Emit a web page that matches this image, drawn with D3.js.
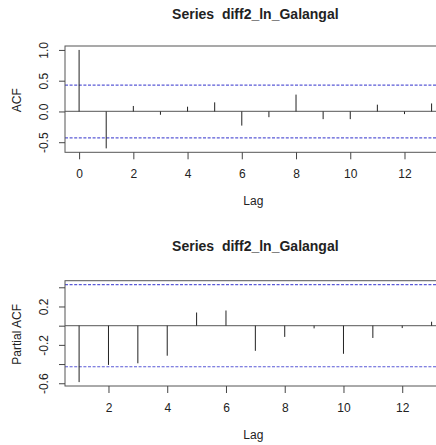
<!DOCTYPE html>
<html>
<head>
    <title>acf / pacf</title>
    <style>
    body { margin: 0; background: #fff; }
    svg text { font-family: "Liberation Sans", Arial, sans-serif; fill: #222; }
    .box { fill: none; stroke: #555; stroke-width: 1; }
    .zero { stroke: #777; stroke-width: 1.2; }
    .spike { stroke: #222; stroke-width: 1; }
    .clim { stroke: #5a5ad6; stroke-width: 1.2; stroke-dasharray: 3, 1.6; }
    .axis path.domain { display: none; }
    .axis line { stroke: #444; }
    .axis text { font-size: 12px; fill: #222; font-family: "Liberation Sans", Arial, sans-serif; }
    </style>
</head>
<body>
<svg id="chart"></svg>
<script src="https://d3js.org/d3.v7.min.js"></script>
<script>
// values
var seriesName = "diff2_ln_Galangal";
var acfLags = [0, 1, 2, 3, 4, 5, 6, 7, 8, 9, 10, 11, 12, 13];
var acfValues = [1.0, -0.6, 0.089, -0.054, 0.077, 0.148, -0.23, -0.093, 0.274, -0.125, -0.125, 0.11, -0.043, 0.13];
var pacfLags = [1, 2, 3, 4, 5, 6, 7, 8, 9, 10, 11, 12, 13];
var pacfValues = [-0.588, -0.409, -0.392, -0.313, 0.137, 0.158, -0.262, -0.117, -0.028, -0.293, -0.128, -0.025, 0.041];
var clim = 0.428;
var acfXTicks = [0, 2, 4, 6, 8, 10, 12];
var pacfXTicks = [2, 4, 6, 8, 10, 12];
var acfYTicks = [-0.5, 0, 0.5, 1.0];
var acfYLabels = [-0.5, 0, 0.5, 1.0];
var pacfYTicks = [-0.6, -0.4, -0.2, 0, 0.2, 0.4];
var pacfYLabels = [-0.6, -0.2, 0.2];

var W = 436, H = 445;
var svg = d3.select("#chart").attr("width", W).attr("height", H);

// R style range with 4% extension
function rlim(arr) {
    var e = d3.extent(arr);
    var d = (e[1] - e[0]) * 0.04;
    return [e[0] - d, e[1] + d];
}

function drawPanel(p) {
    var x = d3.scaleLinear().domain(rlim(p.lags)).range([p.left, p.right]);
    var y = d3.scaleLinear()
        .domain(rlim(p.values.concat([clim, -clim])))
        .range([p.bottom, p.top]);

    var g = svg.append("g");

    // title
    g.append("text")
        .attr("x", (p.left + p.right) / 2)
        .attr("y", p.titleY)
        .attr("text-anchor", "middle")
        .style("font-size", "14px")
        .style("font-weight", "bold")
        .style("white-space", "pre")
        .text("Series  " + seriesName);

    // zero line
    g.append("line").attr("class", "zero")
        .attr("x1", p.left).attr("x2", p.right)
        .attr("y1", y(0)).attr("y2", y(0));

    // confidence limits
    g.selectAll("line.clim").data([clim, -clim]).enter()
        .append("line").attr("class", "clim")
        .attr("x1", p.left).attr("x2", p.right)
        .attr("y1", function(d) { return y(d); })
        .attr("y2", function(d) { return y(d); });

    // spikes
    g.selectAll("line.spike").data(p.lags).enter()
        .append("line").attr("class", "spike")
        .attr("x1", function(d) { return x(d); })
        .attr("x2", function(d) { return x(d); })
        .attr("y1", y(0))
        .attr("y2", function(d, i) { return y(p.values[i]); });

    // box
    g.append("rect").attr("class", "box")
        .attr("x", p.left).attr("y", p.top)
        .attr("width", p.right - p.left).attr("height", p.bottom - p.top);

    // x axis
    g.append("g").attr("class", "axis")
        .attr("transform", "translate(0," + p.bottom + ")")
        .call(d3.axisBottom(x).tickValues(p.xTicks).tickSize(7).tickPadding(10)
            .tickFormat(function(d) { return d; }));

    // y axis, labels parallel to axis
    var ya = g.append("g").attr("class", "axis")
        .attr("transform", "translate(" + p.left + ",0)")
        .call(d3.axisLeft(y).tickValues(p.yTicks).tickSize(6)
            .tickFormat(function(d) {
                return p.yLabels.indexOf(d) >= 0 ? d.toFixed(1) : "";
            }));
    ya.selectAll("text")
        .attr("x", 0).attr("dy", 0)
        .attr("text-anchor", "middle")
        .attr("transform", "translate(-17.5,0) rotate(-90)");

    // axis titles
    g.append("text")
        .attr("x", (p.left + p.right) / 2 - 2)
        .attr("y", p.bottom + 52.5)
        .attr("text-anchor", "middle")
        .style("font-size", "12px")
        .text("Lag");

    g.append("text")
        .attr("text-anchor", "middle")
        .attr("transform", "translate(21," + ((p.top + p.bottom) / 2 + 1) + ") rotate(-90)")
        .style("font-size", "12px")
        .text(p.ylab);
}

drawPanel({
    lags: acfLags, values: acfValues, xTicks: acfXTicks,
    yTicks: acfYTicks, yLabels: acfYLabels, ylab: "ACF",
    left: 65, right: 445.7, top: 46, bottom: 152.3, titleY: 19
});

drawPanel({
    lags: pacfLags, values: pacfValues, xTicks: pacfXTicks,
    yTicks: pacfYTicks, yLabels: pacfYLabels, ylab: "Partial ACF",
    left: 65, right: 445.7, top: 280.7, bottom: 386, titleY: 251
});
</script>
</body>
</html>
